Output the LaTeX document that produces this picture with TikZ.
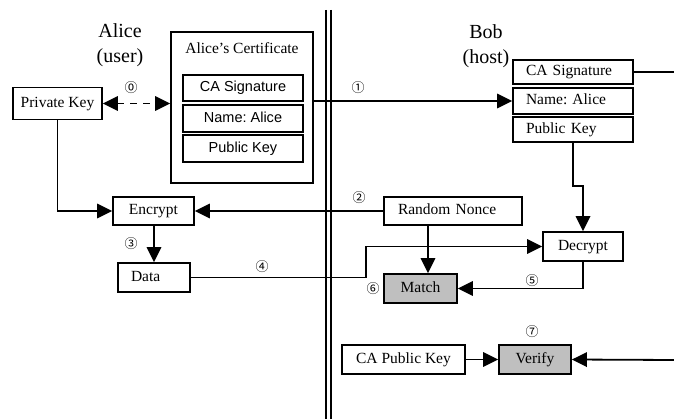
\documentclass[tikz,border=0pt]{standalone}
\usepackage{fontspec}
\setmainfont{Liberation Serif}
\setsansfont{Liberation Sans}
\newfontfamily\circfont{Noto Sans CJK SC}
\usetikzlibrary{arrows.meta,calc}
\frenchspacing

\tikzset{
  box/.style={draw, line width=1.8pt, inner sep=0pt, text height=10.5pt, text depth=3pt,
    font=\fontsize{15.5}{17}\selectfont},
  sbox/.style={box, font=\sffamily\fontsize{14.5}{16}\selectfont},
  lbox/.style={box, align=left, inner xsep=13pt},
  graybox/.style={box, fill=black!25},
  wire/.style={line width=1.8pt},
  arr/.style={wire, -{Triangle[length=15pt,width=14.5pt]}},
  darr/.style={wire, dash pattern=on 7pt off 6pt,
    {Triangle[length=15pt,width=14.5pt]}-{Triangle[length=15pt,width=14.5pt]}},
  num/.style={font=\circfont\fontsize{13}{14}\selectfont, inner sep=0pt},
  who/.style={font=\fontsize{20}{25}\selectfont, align=center, inner sep=0pt},
}

\begin{document}
\begin{tikzpicture}[x=1pt, y=-1pt]
\useasboundingbox (0,0) rectangle (674,419);

% party labels
\node[who] (alice) at (120,45) {Alice\\(user)};
\node[who] (bob) at (486,46) {Bob\\(host)};

% channel between the two parties
\draw[line width=2.2pt] (325.8,10) -- (325.8,419);
\draw[line width=2.2pt] (330.6,10) -- (330.6,419);

% Alice's side
\node[box, minimum width=89pt, minimum height=32pt] (priv) at (57.5,103.5) {Private Key};
\node[box, minimum width=142pt, minimum height=151pt] (cert) at (242,107.5) {};
\node[font=\fontsize{15.5}{17}\selectfont, inner sep=0pt] (certt) at (242,48) {Alice’s Certificate};
\node[sbox, minimum width=120pt, minimum height=26pt] (csig) at (243,88) {CA Signature};
\node[sbox, minimum width=120pt, minimum height=27pt] (cname) at (243,118.5) {Name: Alice};
\node[sbox, minimum width=120pt, minimum height=27pt] (cpub) at (243,148.5) {Public Key};
\node[box, minimum width=81pt, minimum height=28pt] (enc) at (153.5,211) {Encrypt};
\node[lbox, text width=46pt, minimum height=29pt] (data) at (154,277.5) {Data};

% Bob's side
\node[lbox, text width=94pt, minimum height=24pt] (bsig) at (573,72) {CA Signature};
\node[lbox, text width=94pt, minimum height=26pt] (bname) at (573,101) {Name: Alice};
\node[lbox, text width=94pt, minimum height=25pt] (bpub) at (573,129.5) {Public Key};
\node[lbox, inner xsep=14pt, text width=110pt, minimum height=28pt] (nonce) at (453,211) {Random Nonce};
\node[box, minimum width=80pt, minimum height=29pt] (dec) at (583,246.5) {Decrypt};
\node[graybox, minimum width=73pt, minimum height=29pt] (match) at (420.5,288.5) {Match};
\node[box, minimum width=123pt, minimum height=29pt] (capk) at (403.5,359.5) {CA Public Key};
\node[graybox, minimum width=72pt, minimum height=29pt] (verify) at (535,359.5) {Verify};

% helper points
\coordinate (edgeA) at (674,72);
\coordinate (edgeB) at (674,360);
\coordinate (jog) at (366,0);
\coordinate (nm) at (428,0);

% connectors
\draw[darr] (priv.east) -- (cert.west |- priv.east);
\draw[arr] (cert.east |- bname.west) -- (bname.west);
\draw[wire] (bsig.east) -- (edgeA);
\draw[arr] (bpub.south) -- ++(0,43) -| (dec.north);
\draw[arr] (priv.south) |- (enc.west);
\draw[arr] (nonce.west) -- (enc.east);
\draw[arr] (enc.south -| data.north) -- (data.north);
\draw[arr] (data.east) -- (data.east -| jog) |- (dec.west);
\draw[arr] (nonce.south -| nm) -- (match.north -| nm);
\draw[arr] (dec.south) |- (match.east);
\draw[arr] (capk.east) -- (verify.west);
\draw[arr] (edgeB) -- (verify.east);

% step numbers
\node[num] (n0) at (131,88) {⓪};
\node[num] (n1) at (358,88) {①};
\node[num] (n2) at (359,198) {②};
\node[num] (n3) at (131,244) {③};
\node[num] (n4) at (262,267) {④};
\node[num] (n5) at (532,281) {⑤};
\node[num] (n6) at (373,289) {⑥};
\node[num] (n7) at (532,332) {⑦};
\end{tikzpicture}
\end{document}
